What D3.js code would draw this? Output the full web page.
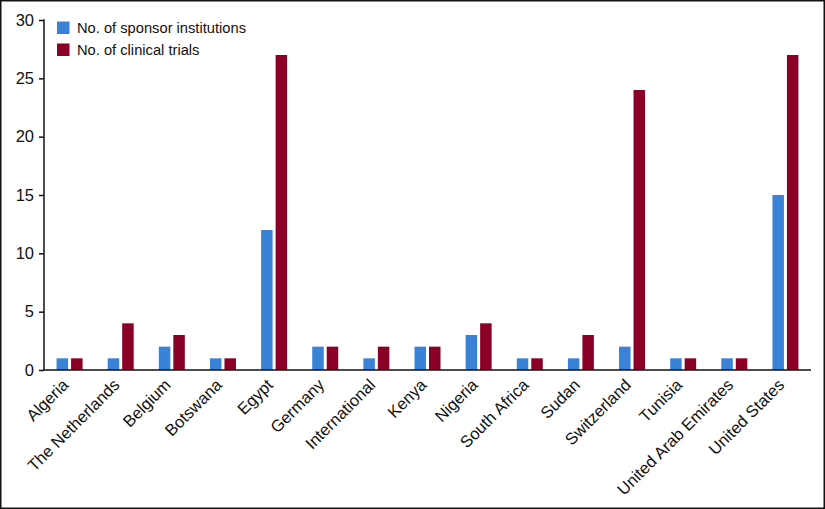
<!DOCTYPE html>
<html>
<head>
<meta charset="utf-8">
<script src="https://cdn.jsdelivr.net/npm/d3@7"></script>
<style>
  body { margin: 0; background: #fff; }
  svg { display: block; font-family: "Liberation Sans", Arial, sans-serif; }
</style>
</head>
<body>
<div id="chart"></div>
<script>
const countries = ["Algeria", "The Netherlands", "Belgium", "Botswana", "Egypt", "Germany", "International", "Kenya", "Nigeria", "South Africa", "Sudan", "Switzerland", "Tunisia", "United Arab Emirates", "United States"]
const sponsors = [1, 1, 2, 1, 12, 2, 1, 2, 3, 1, 1, 2, 1, 1, 15]
const trials = [1, 4, 3, 1, 27, 2, 2, 2, 4, 1, 3, 24, 1, 1, 27]
const seriesNames = ["No. of sponsor institutions", "No. of clinical trials"]
const colors = ["#3a82d8", "#8a0027"]
const yTicks = [0, 5, 10, 15, 20, 25, 30]

var width = 825
var height = 509
var margin = { top: 20, right: 14, bottom: 139, left: 44 }

var svg = d3.select("#chart")
    .append("svg")
    .attr("width", width)
    .attr("height", height)

// outer frame
svg.append("rect")
    .attr("x", 0.75).attr("y", 0.75)
    .attr("width", width - 1.5).attr("height", height - 1.5)
    .style("fill", "none")
    .style("stroke", "#111")
    .style("stroke-width", "1.5px")

var x = d3.scaleBand()
    .domain(countries)
    .range([margin.left, width - margin.right])
    .padding(0)

var y = d3.scaleLinear()
    .domain([0, 30])
    .range([height - margin.bottom, margin.top])

var barW = 11.5
var gap = 3

var rows = countries.map((c, i) => ({ country: c, values: [sponsors[i], trials[i]] }))

var groups = svg.selectAll(".grp")
    .data(rows)
    .enter().append("g")
    .attr("transform", d => "translate(" + (x(d.country) + x.bandwidth() / 2) + ",0)")

groups.selectAll("rect")
    .data(d => d.values)
    .enter().append("rect")
    .attr("x", (d, i) => i == 0 ? -barW - gap / 2 : gap / 2)
    .attr("y", d => y(d))
    .attr("width", barW)
    .attr("height", d => y(0) - y(d))
    .style("fill", (d, i) => colors[i])

// y axis
var yAxis = svg.append("g")
    .attr("transform", "translate(" + margin.left + ",0)")
    .call(d3.axisLeft(y).tickValues(yTicks).tickSize(5).tickPadding(5))
yAxis.select(".domain").remove()
yAxis.selectAll("line").style("stroke", "#111").style("stroke-width", "1.5px")
yAxis.selectAll("text").style("font-size", "16.5px").style("fill", "#111")
    .style("font-family", "'Liberation Sans', Arial, sans-serif")

svg.append("line")
    .attr("x1", margin.left).attr("x2", margin.left)
    .attr("y1", y(30) - 0.75).attr("y2", y(0))
    .style("stroke", "#111").style("stroke-width", "1.5px")

// x axis
svg.append("line")
    .attr("x1", margin.left).attr("x2", width - margin.right)
    .attr("y1", y(0)).attr("y2", y(0))
    .style("stroke", "#111").style("stroke-width", "1.5px")

svg.selectAll(".xlab")
    .data(countries)
    .enter().append("text")
    .attr("transform", d => "translate(" + (x(d) + x.bandwidth() / 2) + "," + (y(0) + 16) + ") rotate(-45)")
    .attr("text-anchor", "end")
    .style("font-size", "16.5px")
    .style("fill", "#111")
    .text(d => d)

// legend
var legend = svg.selectAll(".legend")
    .data(seriesNames)
    .enter().append("g")
    .attr("transform", (d, i) => "translate(57," + (21.5 + i * 22) + ")")

legend.append("rect")
    .attr("width", 12.5).attr("height", 12.5)
    .style("fill", (d, i) => colors[i])

legend.append("text")
    .attr("x", 20).attr("y", 6.5)
    .attr("dy", "0.35em")
    .style("font-size", "14.7px")
    .style("fill", "#111")
    .text(d => d)
</script>
</body>
</html>
